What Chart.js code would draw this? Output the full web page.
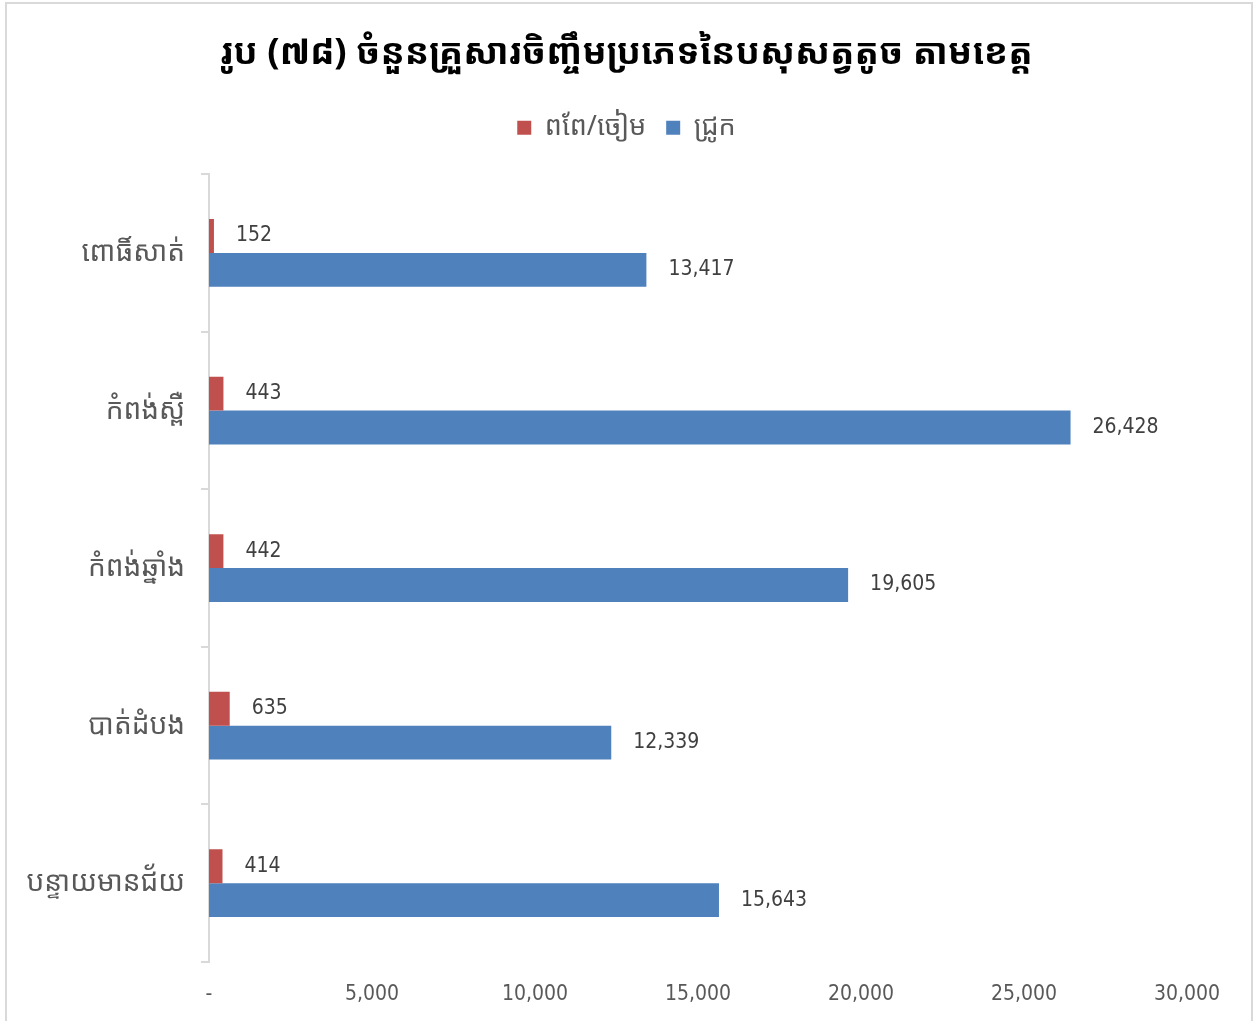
<!DOCTYPE html>
<html>
<head>
<meta charset="utf-8">
<script src="https://cdn.jsdelivr.net/npm/chart.js@4.4.1/dist/chart.umd.min.js"></script>
<style>
    html, body { margin: 0; padding: 0; background: #ffffff; }
    canvas { display: block; }
</style>
</head>
<body>
<canvas id="chart" width="1254" height="1021"></canvas>
<script>
// ============================================
// DATA
// ============================================
const chartTitle = 'រូប (៧៨) ចំនួនគ្រួសារចិញ្ចឹមប្រភេទនៃបសុសត្វតូច តាមខេត្ត';
const provinces = ['ពោធិ៍សាត់', 'កំពង់ស្ពឺ', 'កំពង់ឆ្នាំង', 'បាត់ដំបង', 'បន្ទាយមានជ័យ'];
const seriesNames = ['ពពែ/ចៀម', 'ជ្រូក'];
const goatSheep = [152, 443, 442, 635, 414];
const pigs = [13417, 26428, 19605, 12339, 15643];
const xTicks = [0, 5000, 10000, 15000, 20000, 25000, 30000];

const KHMER = '"Khmer OS", "Khmer OS System", "Noto Sans Khmer", "Noto Serif Khmer", "Khmer", "Noto Sans", sans-serif';
const NUMFONT = '"Liberation Sans Narrow", "DejaVu Sans Condensed", "Open Sans", sans-serif';

const fmt = (v) => v.toLocaleString('en-US');

// ============================================
// PLUGINS
// ============================================
// white background + light grey chart frame
const frame = {
    id: 'frame',
    beforeDraw(chart) {
        const ctx = chart.ctx;
        ctx.save();
        ctx.fillStyle = '#ffffff';
        ctx.fillRect(0, 0, chart.width, chart.height);
        ctx.strokeStyle = '#d9d9d9';
        ctx.lineWidth = 2;
        ctx.strokeRect(6, 3, chart.width - 8, chart.height + 10);
        ctx.restore();
    }
};

// value labels to the right of each bar
const barValues = {
    id: 'barValues',
    afterDatasetsDraw(chart) {
        const ctx = chart.ctx;
        ctx.save();
        ctx.font = '21px ' + NUMFONT;
        ctx.fillStyle = '#404040';
        ctx.textAlign = 'left';
        ctx.textBaseline = 'middle';
        chart.data.datasets.forEach((ds, i) => {
            chart.getDatasetMeta(i).data.forEach((bar, j) => {
                ctx.fillText(fmt(ds.data[j]), bar.x + 22, bar.y);
            });
        });
        ctx.restore();
    }
};

// ============================================
// CHART
// ============================================
const ctx = document.getElementById('chart').getContext('2d');

new Chart(ctx, {
    type: 'bar',
    data: {
        labels: provinces,
        datasets: [{
            label: seriesNames[0],
            data: goatSheep,
            backgroundColor: '#c0504d',
            categoryPercentage: 0.43,
            barPercentage: 1.0
        }, {
            label: seriesNames[1],
            data: pigs,
            backgroundColor: '#4f81bd',
            categoryPercentage: 0.43,
            barPercentage: 1.0
        }]
    },
    options: {
        indexAxis: 'y',
        responsive: false,
        animation: false,
        layout: {
            padding: { left: 10, right: 11, top: 10, bottom: 0 }
        },
        plugins: {
            title: {
                display: true,
                text: chartTitle,
                color: '#000000',
                font: { family: KHMER, size: 36, weight: 'bold' },
                padding: { top: 22, bottom: 19 }
            },
            // empty subtitle used only as a spacer between legend and plot
            subtitle: {
                display: true,
                text: '',
                weight: 500,
                font: { size: 10 },
                padding: { top: 11, bottom: 0 }
            },
            legend: {
                display: true,
                labels: {
                    color: '#595959',
                    font: { family: KHMER, size: 27 },
                    boxWidth: 14,
                    boxHeight: 14,
                    padding: 20
                }
            },
            tooltip: { enabled: false }
        },
        scales: {
            x: {
                min: 0,
                max: 30000,
                afterBuildTicks: (scale) => {
                    scale.ticks = xTicks.map(v => ({ value: v }));
                },
                afterFit: (scale) => { scale.height = 59; },
                grid: { display: false, drawTicks: false, tickLength: 0 },
                border: { display: false },
                ticks: {
                    color: '#595959',
                    font: { family: NUMFONT, size: 21 },
                    padding: 20,
                    maxRotation: 0,
                    callback: (v) => v === 0 ? '-' : fmt(v)
                }
            },
            y: {
                afterFit: (scale) => { scale.width = 199; },
                grid: {
                    offset: true,
                    drawOnChartArea: false,
                    drawTicks: true,
                    tickLength: 8,
                    color: '#d9d9d9',
                    lineWidth: 2
                },
                border: { display: true, color: '#d9d9d9', width: 2 },
                ticks: {
                    color: '#595959',
                    font: { family: KHMER, size: 28 },
                    padding: 16
                }
            },
            // blank right-hand axis: reserves room for the last value label
            yRight: {
                type: 'category',
                axis: 'y',
                position: 'right',
                afterFit: (scale) => { scale.width = 56; },
                grid: { display: false, drawTicks: false },
                border: { display: false },
                ticks: { display: false }
            }
        }
    },
    plugins: [frame, barValues]
});
</script>
</body>
</html>
